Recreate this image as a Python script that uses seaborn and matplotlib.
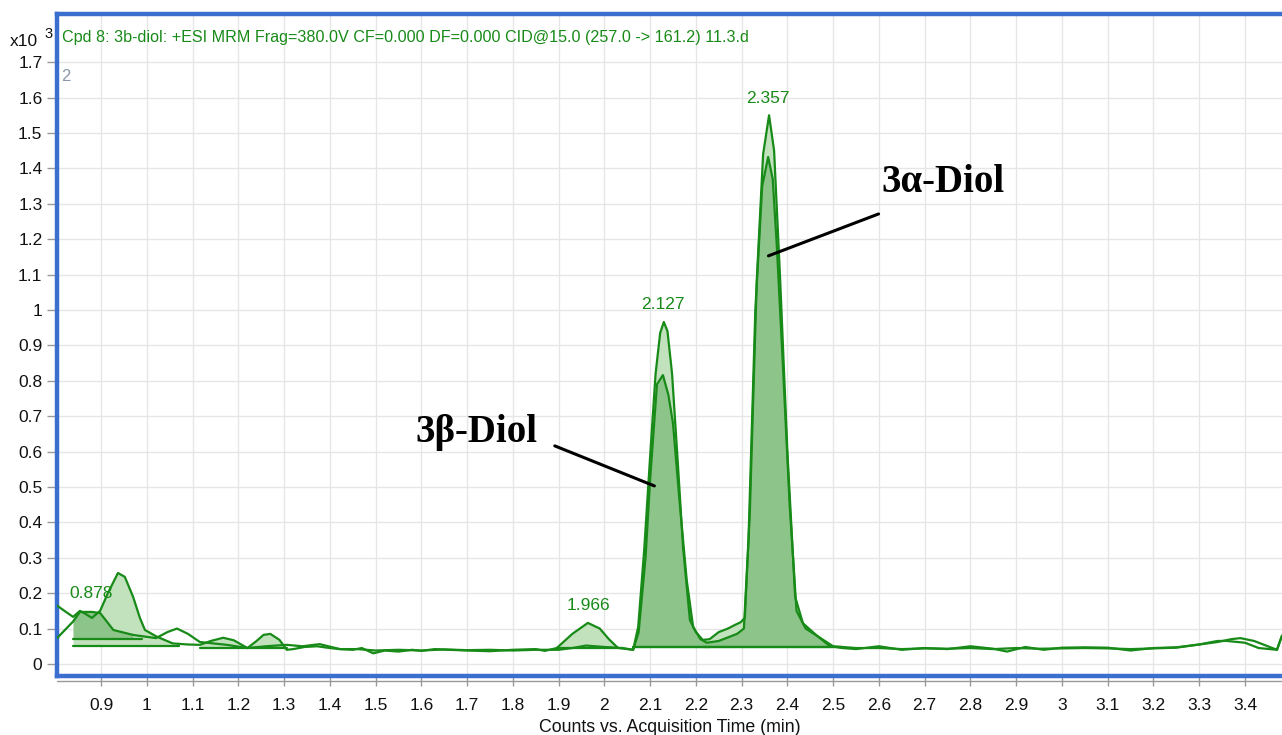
import matplotlib.pyplot as plt
import numpy as np
import pandas as pd
import seaborn as sns

# MRM chromatogram, response in x10^3 counts

time_a = [0.804, 0.82, 0.839, 0.854, 0.868, 0.88, 0.898, 0.915, 0.937, 0.952, 0.97, 0.985,
          0.996, 1.022, 1.057, 1.09, 1.116, 1.14, 1.167, 1.19, 1.22, 1.24, 1.255, 1.27,
          1.29, 1.306, 1.32, 1.345, 1.372, 1.40, 1.422, 1.45, 1.47, 1.495, 1.52, 1.55,
          1.58, 1.60, 1.63, 1.66, 1.70, 1.75, 1.80, 1.85, 1.87, 1.896, 1.93, 1.964,
          1.99, 2.01, 2.03, 2.05, 2.063, 2.074, 2.087, 2.10, 2.112, 2.122, 2.13, 2.138,
          2.148, 2.16, 2.172, 2.187, 2.20, 2.215, 2.23, 2.25, 2.27, 2.285, 2.298, 2.307,
          2.318, 2.333, 2.347, 2.36, 2.371, 2.384, 2.40, 2.417, 2.434, 2.46, 2.493, 2.52,
          2.55, 2.60, 2.65, 2.70, 2.75, 2.80, 2.85, 2.88, 2.92, 2.96, 3.00, 3.05,
          3.10, 3.15, 3.20, 3.25, 3.30, 3.34, 3.37, 3.39, 3.42, 3.45, 3.47, 3.481]
resp_a = [0.165, 0.15, 0.133, 0.15, 0.14, 0.13, 0.15, 0.20, 0.257, 0.246, 0.19, 0.13,
          0.096, 0.077, 0.058, 0.055, 0.054, 0.065, 0.074, 0.067, 0.045, 0.065, 0.082, 0.085,
          0.068, 0.040, 0.042, 0.048, 0.050, 0.045, 0.042, 0.040, 0.045, 0.030, 0.038, 0.035,
          0.040, 0.037, 0.042, 0.040, 0.038, 0.036, 0.040, 0.042, 0.037, 0.045, 0.085, 0.116,
          0.10, 0.07, 0.045, 0.042, 0.040, 0.105, 0.32, 0.585, 0.82, 0.935, 0.966, 0.94,
          0.82, 0.58, 0.33, 0.124, 0.09, 0.068, 0.07, 0.09, 0.10, 0.11, 0.118, 0.13,
          0.43, 1.08, 1.44, 1.55, 1.45, 1.093, 0.60, 0.19, 0.115, 0.085, 0.05, 0.045,
          0.042, 0.05, 0.04, 0.045, 0.042, 0.05, 0.043, 0.035, 0.048, 0.04, 0.046, 0.047,
          0.046, 0.038, 0.045, 0.047, 0.055, 0.062, 0.07, 0.073, 0.065, 0.05, 0.04, 0.08]

time_b = [0.804, 0.839, 0.854, 0.88, 0.898, 0.927, 0.97, 1.02, 1.045, 1.066, 1.09, 1.116, 1.175,
          1.22, 1.26, 1.306, 1.34, 1.378, 1.422, 1.46, 1.50, 1.55, 1.60, 1.65, 1.70,
          1.75, 1.80, 1.85, 1.90, 1.93, 1.96, 2.00, 2.04, 2.063, 2.075, 2.09, 2.10,
          2.115, 2.128, 2.14, 2.15, 2.165, 2.18, 2.194, 2.21, 2.224, 2.25, 2.27, 2.29,
          2.305, 2.315, 2.33, 2.345, 2.358, 2.368, 2.377, 2.39, 2.405, 2.42, 2.44, 2.47,
          2.50, 2.55, 2.60, 2.65, 2.70, 2.75, 2.80, 2.85, 2.90, 2.95, 3.00, 3.05,
          3.10, 3.15, 3.20, 3.25, 3.30, 3.34, 3.36, 3.40, 3.43, 3.47, 3.481]
resp_b = [0.073, 0.12, 0.147, 0.147, 0.144, 0.096, 0.082, 0.073, 0.09, 0.10, 0.085, 0.062, 0.054,
          0.045, 0.05, 0.054, 0.05, 0.056, 0.042, 0.042, 0.038, 0.040, 0.038, 0.041, 0.039,
          0.040, 0.038, 0.040, 0.040, 0.045, 0.052, 0.048, 0.045, 0.040, 0.09, 0.30, 0.52,
          0.79, 0.816, 0.76, 0.68, 0.45, 0.237, 0.105, 0.07, 0.06, 0.065, 0.075, 0.085,
          0.10, 0.35, 1.00, 1.35, 1.432, 1.37, 1.18, 0.85, 0.45, 0.15, 0.10, 0.075,
          0.05, 0.045, 0.045, 0.042, 0.044, 0.043, 0.045, 0.042, 0.045, 0.043, 0.044, 0.045,
          0.044, 0.042, 0.044, 0.046, 0.055, 0.065, 0.065, 0.06, 0.045, 0.04, 0.08]

# integrated peak windows: (start, end, baseline)
light_windows = [(0.839, 1.07, 0.05), (1.116, 1.306, 0.045), (1.896, 2.03, 0.045),
                 (2.063, 2.23, 0.048), (2.215, 2.52, 0.048)]
dark_windows = [(0.839, 0.99, 0.07), (2.063, 2.224, 0.048), (2.224, 2.50, 0.048)]

peak_times = [0.878, 1.966, 2.127, 2.357]
peak_heights = [0.15, 0.116, 0.966, 1.55]

compounds = ['3β-Diol', '3α-Diol']
label_pos = [(1.72, 0.655), (2.74, 1.36)]
line_start = [(1.886, 0.619), (2.605, 1.274)]
line_end = [(2.115, 0.50), (2.353, 1.15)]

GREEN = '#178a17'
LIGHT = '#c2e2bd'
DARK = '#8cc489'
BLUE = '#3a6fd0'

sns.set_style('whitegrid')
plt.rcParams['font.family'] = ['Liberation Sans', 'DejaVu Sans']
plt.rcParams['text.color'] = '#111111'

fig = plt.figure(figsize=(12.82, 7.35), dpi=100)
ax = fig.add_axes([57 / 1282, 1 - 676 / 735, 1 - 57 / 1282, (676 - 14) / 735])

df_a = pd.DataFrame({'time': time_a, 'resp': resp_a})
df_b = pd.DataFrame({'time': time_b, 'resp': resp_b})
ta, ra = np.array(time_a), np.array(resp_a)
tb, rb = np.array(time_b), np.array(resp_b)

for t0, t1, base in light_windows:
    m = (ta >= t0) & (ta <= t1)
    ax.fill_between(ta, ra, base, where=m, color=LIGHT, lw=0, zorder=2)
    ax.plot([t0, t1], [base, base], color=GREEN, lw=1.6, zorder=4)
for t0, t1, base in dark_windows:
    m = (tb >= t0) & (tb <= t1)
    ax.fill_between(tb, rb, base, where=m, color=DARK, lw=0, zorder=3)
    ax.plot([t0, t1], [base, base], color=GREEN, lw=1.6, zorder=4)

sns.lineplot(data=df_a, x='time', y='resp', color=GREEN, lw=1.6, estimator=None, ax=ax, zorder=5)
sns.lineplot(data=df_b, x='time', y='resp', color=GREEN, lw=1.6, estimator=None, ax=ax, zorder=5)

for t, h in zip(peak_times, peak_heights):
    ax.annotate(f'{t:.3f}', (t, h), xytext=(0, 7), textcoords='offset points',
                ha='center', va='bottom', color=GREEN, fontsize=12.5, zorder=6)

for name, pos, p0, p1 in zip(compounds, label_pos, line_start, line_end):
    ax.text(pos[0], pos[1], name, ha='center', va='center', fontsize=28, color='black',
            fontweight='bold', family=['Liberation Serif', 'DejaVu Serif'], zorder=7)
    ax.annotate('', xy=p1, xytext=p0,
                arrowprops=dict(arrowstyle='-', color='black', lw=2.2), zorder=7)

ax.set_xlim(0.8038, 3.481)
ax.set_ylim(-0.034, 1.836)
ax.set_xticks(np.arange(0.9, 3.45, 0.1))
ax.set_xticklabels([f'{v:g}' for v in np.round(np.arange(0.9, 3.45, 0.1), 1)])
ax.set_yticks(np.arange(0, 1.75, 0.1))
ax.set_yticklabels([f'{v:g}' for v in np.round(np.arange(0, 1.75, 0.1), 1)])
ax.tick_params(axis='both', labelsize=12.5, colors='#111111', length=7, width=1,
               direction='out', left=True, bottom=True, color='#999999')
ax.tick_params(axis='x', pad=9)
ax.grid(True, color='#e6e6e6', lw=1)
ax.set_xlabel('Counts vs. Acquisition Time (min)', fontsize=12.8, labelpad=4, color='#111111')
ax.set_ylabel('')

for side in ['left', 'top', 'bottom']:
    ax.spines[side].set_color(BLUE)
    ax.spines[side].set_linewidth(3.2)
ax.spines['right'].set_visible(False)
# grey time axis just below the frame
ax.plot([0, 1], [-0.008, -0.008], transform=ax.transAxes, clip_on=False, color='#999999', lw=1)

ax.text(0.004, 0.964, 'Cpd 8: 3b-diol: +ESI MRM Frag=380.0V CF=0.000 DF=0.000 CID@15.0 (257.0 -> 161.2) 11.3.d',
        transform=ax.transAxes, color=GREEN, fontsize=11.6, ha='left', va='center')
ax.text(0.003, 0.905, '2', transform=ax.transAxes, color='#8899aa', fontsize=12, ha='left', va='center')
fig.text(10 / 1282, 1 - 42 / 735, 'x10', fontsize=12.5, ha='left', va='center')
fig.text(44 / 1282, 1 - 34 / 735, '3', fontsize=10.5, ha='left', va='center')

plt.savefig('out.png', dpi=100)
plt.close()
